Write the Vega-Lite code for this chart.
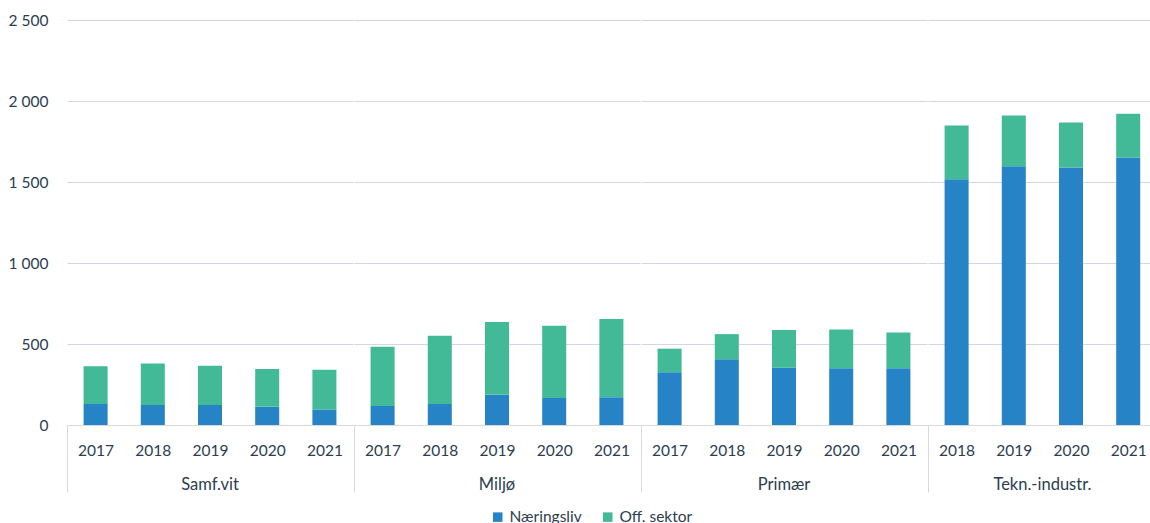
{
  "$schema": "https://vega.github.io/schema/vega-lite/v6.json",
  "padding": {"top": 13, "left": 5, "right": 0, "bottom": 0},
  "background": "white",
  "data": {"values": [
    {"kategori": "Samf.vit", "år": "2017", "sektor": "Næringsliv", "verdi": 130},
    {"kategori": "Samf.vit", "år": "2017", "sektor": "Off. sektor", "verdi": 233},
    {"kategori": "Samf.vit", "år": "2018", "sektor": "Næringsliv", "verdi": 124},
    {"kategori": "Samf.vit", "år": "2018", "sektor": "Off. sektor", "verdi": 255},
    {"kategori": "Samf.vit", "år": "2019", "sektor": "Næringsliv", "verdi": 124},
    {"kategori": "Samf.vit", "år": "2019", "sektor": "Off. sektor", "verdi": 241},
    {"kategori": "Samf.vit", "år": "2020", "sektor": "Næringsliv", "verdi": 112},
    {"kategori": "Samf.vit", "år": "2020", "sektor": "Off. sektor", "verdi": 233},
    {"kategori": "Samf.vit", "år": "2021", "sektor": "Næringsliv", "verdi": 96},
    {"kategori": "Samf.vit", "år": "2021", "sektor": "Off. sektor", "verdi": 245},
    {"kategori": "Miljø", "år": "2017", "sektor": "Næringsliv", "verdi": 118},
    {"kategori": "Miljø", "år": "2017", "sektor": "Off. sektor", "verdi": 365},
    {"kategori": "Miljø", "år": "2018", "sektor": "Næringsliv", "verdi": 130},
    {"kategori": "Miljø", "år": "2018", "sektor": "Off. sektor", "verdi": 421},
    {"kategori": "Miljø", "år": "2019", "sektor": "Næringsliv", "verdi": 186},
    {"kategori": "Miljø", "år": "2019", "sektor": "Off. sektor", "verdi": 450},
    {"kategori": "Miljø", "år": "2020", "sektor": "Næringsliv", "verdi": 167},
    {"kategori": "Miljø", "år": "2020", "sektor": "Off. sektor", "verdi": 445},
    {"kategori": "Miljø", "år": "2021", "sektor": "Næringsliv", "verdi": 171},
    {"kategori": "Miljø", "år": "2021", "sektor": "Off. sektor", "verdi": 484},
    {"kategori": "Primær", "år": "2017", "sektor": "Næringsliv", "verdi": 326},
    {"kategori": "Primær", "år": "2017", "sektor": "Off. sektor", "verdi": 145},
    {"kategori": "Primær", "år": "2018", "sektor": "Næringsliv", "verdi": 406},
    {"kategori": "Primær", "år": "2018", "sektor": "Off. sektor", "verdi": 155},
    {"kategori": "Primær", "år": "2019", "sektor": "Næringsliv", "verdi": 353},
    {"kategori": "Primær", "år": "2019", "sektor": "Off. sektor", "verdi": 234},
    {"kategori": "Primær", "år": "2020", "sektor": "Næringsliv", "verdi": 351},
    {"kategori": "Primær", "år": "2020", "sektor": "Off. sektor", "verdi": 239},
    {"kategori": "Primær", "år": "2021", "sektor": "Næringsliv", "verdi": 351},
    {"kategori": "Primær", "år": "2021", "sektor": "Off. sektor", "verdi": 220},
    {"kategori": "Tekn.-industr.", "år": "2018", "sektor": "Næringsliv", "verdi": 1517},
    {"kategori": "Tekn.-industr.", "år": "2018", "sektor": "Off. sektor", "verdi": 331},
    {"kategori": "Tekn.-industr.", "år": "2019", "sektor": "Næringsliv", "verdi": 1597},
    {"kategori": "Tekn.-industr.", "år": "2019", "sektor": "Off. sektor", "verdi": 313},
    {"kategori": "Tekn.-industr.", "år": "2020", "sektor": "Næringsliv", "verdi": 1589},
    {"kategori": "Tekn.-industr.", "år": "2020", "sektor": "Off. sektor", "verdi": 279},
    {"kategori": "Tekn.-industr.", "år": "2021", "sektor": "Næringsliv", "verdi": 1651},
    {"kategori": "Tekn.-industr.", "år": "2021", "sektor": "Off. sektor", "verdi": 271}
  ]},
  "facet": {
    "column": {
      "field": "kategori",
      "type": "nominal",
      "sort": ["Samf.vit", "Miljø", "Primær", "Tekn.-industr."],
      "title": null,
      "header": {
        "labelOrient": "bottom",
        "labelFont": "Lato",
        "labelFontSize": 16.5,
        "labelColor": "#2B3D4F",
        "labelPadding": -16
      }
    }
  },
  "spacing": 0,
  "resolve": {"scale": {"x": "independent"}},
  "spec": {
    "width": {"step": 57.2},
    "height": 405,
    "mark": {"type": "bar"},
    "encoding": {
      "x": {
        "field": "år",
        "type": "ordinal",
        "title": null,
        "scale": {"paddingInner": 0.58, "paddingOuter": 0.29},
        "axis": {
          "labelAngle": 0,
          "labelFont": "Lato",
          "labelFontSize": 15.5,
          "labelColor": "#2B3D4F",
          "domainColor": "#D9D9D9",
          "tickSize": 67,
          "tickOffset": -28.6,
          "labelOffset": 28.6,
          "tickColor": {"condition": {"test": "datum.index == 0", "value": "#D9D9D9"}, "value": "transparent"},
          "labelPadding": -49
        }
      },
      "y": {
        "field": "verdi",
        "type": "quantitative",
        "aggregate": "sum",
        "title": null,
        "scale": {"domain": [0, 2500]},
        "axis": {
          "values": [0, 500, 1000, 1500, 2000, 2500],
          "labelExpr": "replace(format(datum.value, ','), ',', ' ')",
          "domain": false,
          "ticks": false,
          "labelFont": "Lato",
          "labelFontSize": 15.5,
          "labelColor": "#2B3D4F",
          "labelPadding": 18,
          "minExtent": 61,
          "maxExtent": 61,
          "gridColor": "#D3D6E6",
          "gridWidth": 1
        }
      },
      "color": {
        "field": "sektor",
        "type": "nominal",
        "scale": {"domain": ["Næringsliv", "Off. sektor"], "range": ["#2683C6", "#42BA97"]},
        "legend": {
          "orient": "none",
          "legendX": 423,
          "legendY": 489,
          "direction": "horizontal",
          "title": null,
          "symbolType": "square",
          "symbolSize": 90,
          "symbolStrokeWidth": 0,
          "labelFont": "Lato",
          "labelFontSize": 15.5,
          "labelColor": "#2B3D4F",
          "columnPadding": 18
        }
      },
      "order": {"field": "sektor", "sort": "ascending"}
    }
  },
  "config": {"view": {"stroke": null}}
}
